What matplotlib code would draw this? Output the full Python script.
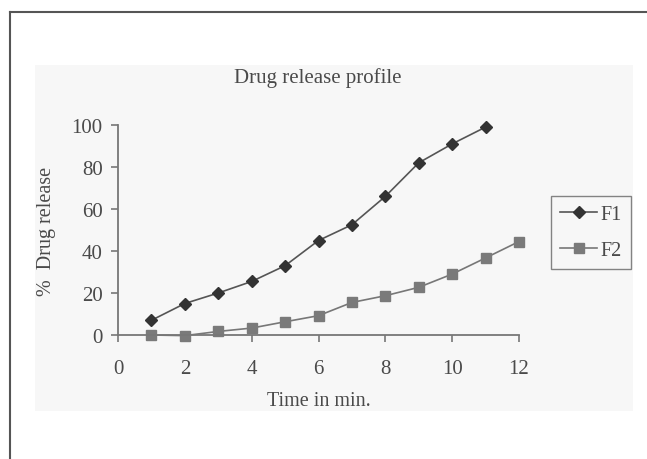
import matplotlib
matplotlib.use("Agg")
import matplotlib.pyplot as plt
from matplotlib.patches import Rectangle
from matplotlib.lines import Line2D

time_f1 = [1, 2, 3, 4, 5, 6, 7, 8, 9, 10, 11]
release_f1 = [7, 15, 20, 25.5, 33, 45, 52.5, 66, 82, 91, 99]
time_f2 = [1, 2, 3, 4, 5, 6, 7, 8, 9, 10, 11, 12]
release_f2 = [0, -0.3, 1.7, 3.3, 6.3, 9.2, 15.5, 18.7, 22.7, 29, 36.7, 44.5]
x_ticks = [0, 2, 4, 6, 8, 10, 12]
y_ticks = [0, 20, 40, 60, 80, 100]
series_names = ["F1", "F2"]

plt.rcParams['font.family'] = ['Liberation Serif', 'DejaVu Serif']
TXT = "#4a4a4a"
W, H = 647, 460
fig = plt.figure(figsize=(W / 100, H / 100), dpi=100)
fig.patch.set_facecolor("white")

# light gray chart area
area = Rectangle((35 / W, 1 - 412 / H), (633 - 35) / W, (412 - 66) / H,
                 transform=fig.transFigure, facecolor="#f7f7f7",
                 edgecolor="none", zorder=-5)
fig.patches.append(area)
# frame lines (top and left)
fig.add_artist(Line2D([10 / W, 1.0], [1 - 13 / H, 1 - 13 / H], transform=fig.transFigure,
                      color="#555555", lw=1.5, zorder=-4))
fig.add_artist(Line2D([10 / W, 10 / W], [0, 1 - 13 / H], transform=fig.transFigure,
                      color="#555555", lw=1.5, zorder=-4))

ax = fig.add_axes([118 / W, 1 - 336 / H, (519 - 118) / W, (336 - 126) / H])
ax.set_zorder(2)
ax.set_facecolor("none")
ax.plot(time_f1, release_f1, color="#555555", lw=1.2, marker="D", markersize=6.5,
        markerfacecolor="#333333", markeredgecolor="#333333", clip_on=False, label=series_names[0])
ax.plot(time_f2, release_f2, color="#777777", lw=1.2, marker="s", markersize=6.5,
        markerfacecolor="#7a7a7a", markeredgecolor="#7a7a7a", clip_on=False, label=series_names[1])

ax.set_xlim(0, 12)
ax.set_ylim(0, 100)
ax.set_xticks(x_ticks)
ax.set_yticks(y_ticks)
for s in ["top", "right"]:
    ax.spines[s].set_visible(False)
for s in ["left", "bottom"]:
    ax.spines[s].set_color("#777777")
    ax.spines[s].set_linewidth(1.3)
ax.tick_params(axis="both", colors="#777777", labelcolor=TXT, labelsize=15, width=1.2,
               length=5, direction="out")
ax.tick_params(axis="x", pad=12)
ax.tick_params(axis="y", pad=6)

ax.set_xlabel("Time in min.", fontsize=14.5, color=TXT, labelpad=10)
ax.set_ylabel("%  Drug release", fontsize=14.5, color=TXT, labelpad=11)
fig.text(318 / W, 1 - 78 / H, "Drug release profile", ha="center", va="center",
         fontsize=15, color=TXT)

leg = ax.legend(loc="upper left", bbox_to_anchor=(551 / W, 1 - 197 / H),
                bbox_transform=fig.transFigure, borderaxespad=0, frameon=True,
                fancybox=False, fontsize=14.5, handlelength=1.85, handletextpad=0.15,
                labelspacing=0.85, borderpad=0.45, labelcolor=TXT)
frame = leg.get_frame()
frame.set_edgecolor("#666666")
frame.set_linewidth(1.0)
frame.set_facecolor("#f7f7f7")

fig.savefig("out.png", dpi=100)
